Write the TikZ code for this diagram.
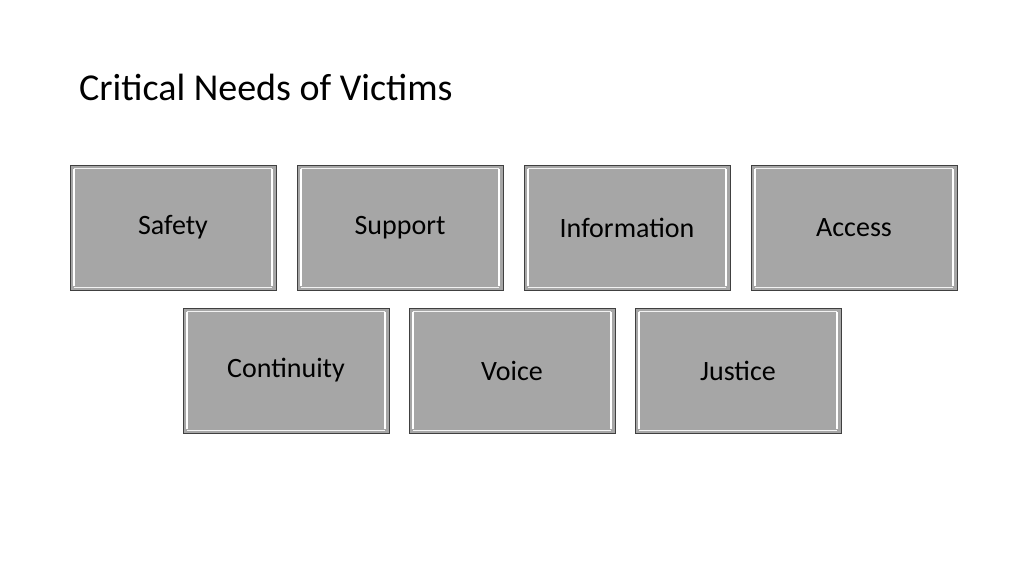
\documentclass[tikz,border=0pt]{standalone}
\usepackage{fontspec}
\setmainfont{Carlito}
\usetikzlibrary{positioning}
\definecolor{boxgray}{RGB}{166,166,166}
\definecolor{edgegray}{RGB}{64,64,64}
\tikzset{
  needbox/.style={draw=edgegray, line width=1pt, fill=boxgray, minimum width=206pt, minimum height=125pt,
    inner sep=0pt, font=\fontsize{28}{32}\selectfont,
    path picture={
      \draw[white, line width=1.5pt] ([xshift=4pt,yshift=-4pt]path picture bounding box.north west) -- ([xshift=4pt,yshift=4pt]path picture bounding box.south west);
      \draw[white, line width=1.5pt] ([xshift=-4pt,yshift=-4pt]path picture bounding box.north east) -- ([xshift=-4pt,yshift=4pt]path picture bounding box.south east);
      \draw[white!85!boxgray, line width=1pt] ([xshift=4pt,yshift=-3pt]path picture bounding box.north west) -- ([xshift=-4pt,yshift=-3pt]path picture bounding box.north east);
      \draw[white!85!boxgray, line width=1pt] ([xshift=4pt,yshift=3pt]path picture bounding box.south west) -- ([xshift=-4pt,yshift=3pt]path picture bounding box.south east);
    }},
}
\begin{document}
\begin{tikzpicture}[x=1pt,y=-1pt, node distance=20pt]
\useasboundingbox (0,0) rectangle (1024,576);

% title
\node[anchor=base west, inner sep=0pt, font=\fontsize{38}{44}\selectfont] (title) at (79,100) {Critical Needs of Victims};

% first row
\node[needbox] (safety) at (173,227.5) {Safety};
\node[needbox, right=of safety] (support) {Support};
\node[needbox, right=of support] (information) {Information};
\node[needbox, right=of information] (access) {Access};

% second row
\node[needbox] (continuity) at (286,370.5) {Continuity};
\node[needbox, right=19pt of continuity] (voice) {Voice};
\node[needbox, right=19pt of voice] (justice) {Justice};

\end{tikzpicture}
\end{document}
